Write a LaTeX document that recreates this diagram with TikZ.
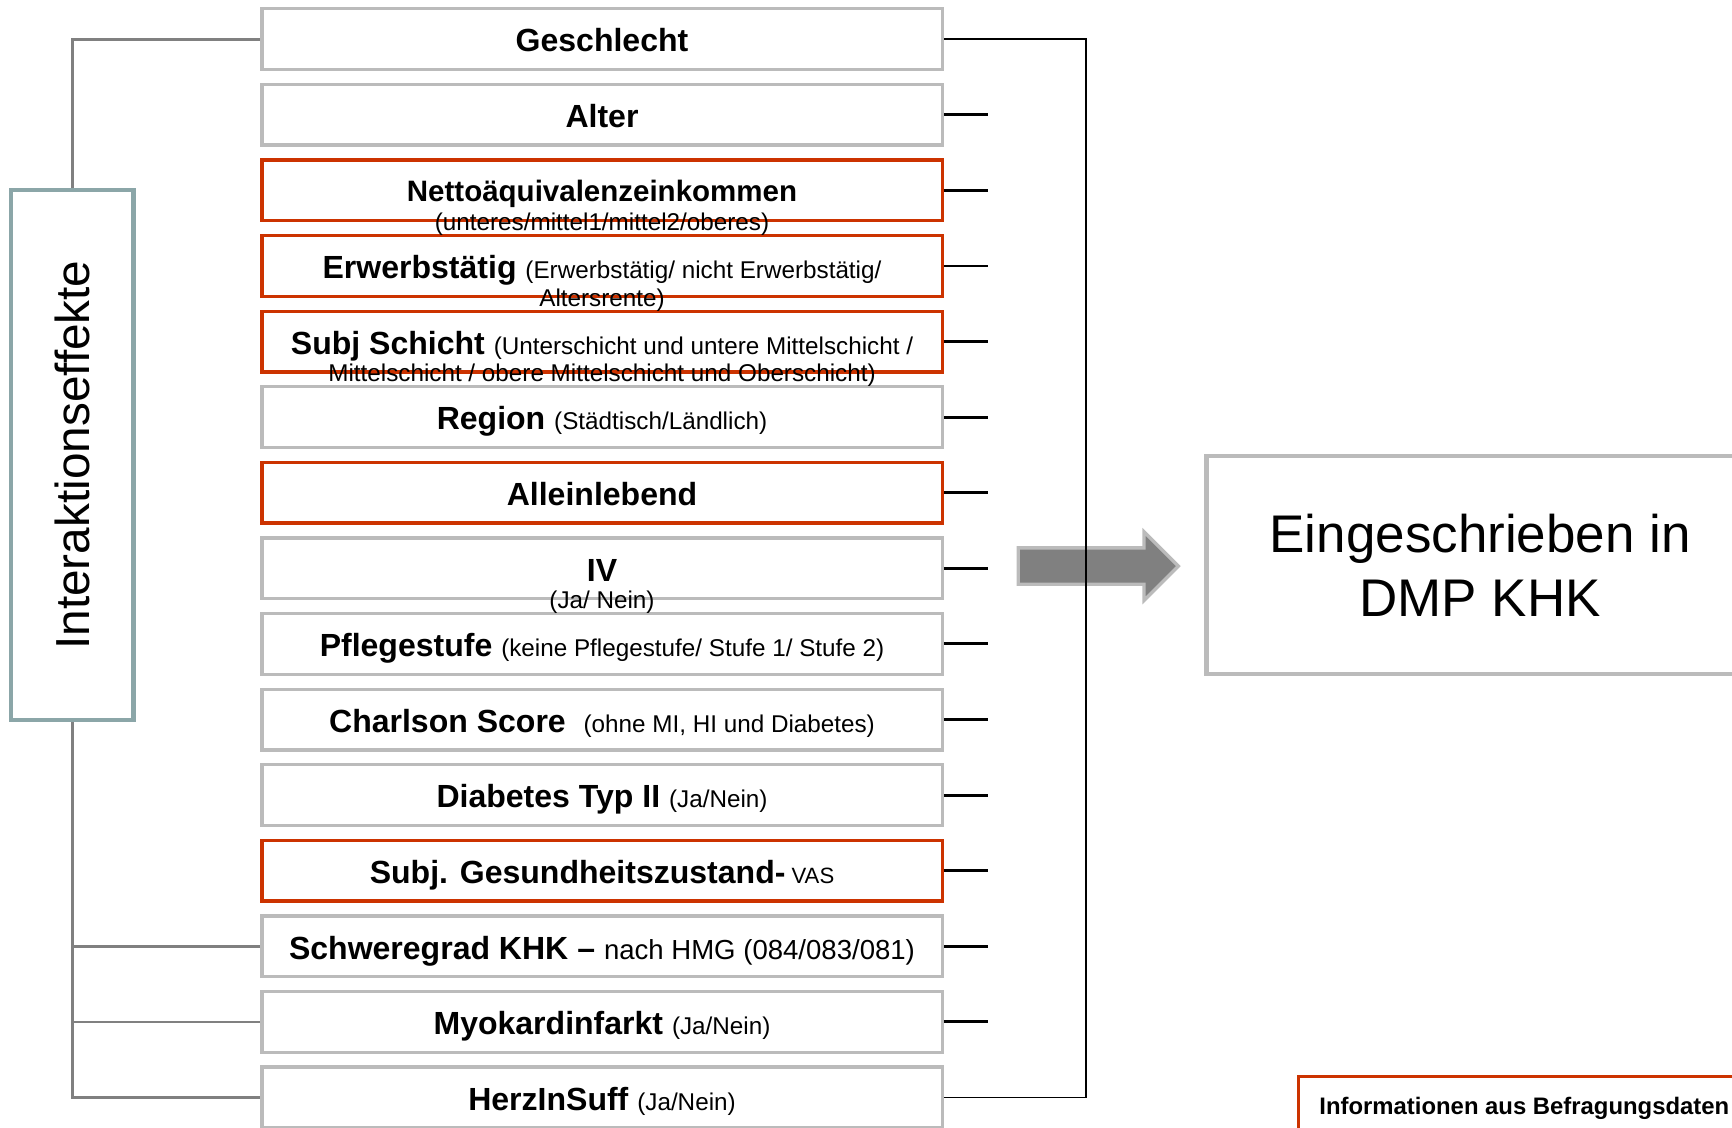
\documentclass[tikz,border=0pt]{standalone}
\usepackage{fontspec}
\setmainfont{Liberation Sans}
\usepackage{tikz}
\usetikzlibrary{positioning,shapes.arrows}
\definecolor{cBox}{RGB}{187,187,187}
\definecolor{cRed}{RGB}{204,51,0}
\definecolor{cTeal}{RGB}{139,166,168}
\definecolor{cLine}{RGB}{128,128,128}
\definecolor{cArrow}{RGB}{128,128,128}
\newcommand{\fTitle}{\fontsize{16.5}{19}\selectfont\bfseries}
\newcommand{\fSub}{\fontsize{12.5}{15}\selectfont\mdseries}
\newcommand{\fMid}{\fontsize{14.2}{17}\selectfont\mdseries}
\newcommand{\fVas}{\fontsize{11.4}{14}\selectfont\mdseries}

\tikzset{
  varbox/.style={draw=cBox, line width=1.7pt, fill=white, minimum width=12.32cm,
    minimum height=1.1cm, inner sep=0pt, text height=0.46cm, text depth=0pt, font=\fTitle},
  redbox/.style={varbox, draw=cRed},
  subline/.style={anchor=base, inner sep=0pt, font=\fSub},
  tick/.style={line width=1.5pt},
  rail/.style={line width=0.85pt},
  bracket/.style={draw=cLine, line width=1.4pt},
  iabox/.style={draw=cTeal, line width=2.3pt, fill=white, minimum width=2.22cm,
    minimum height=9.6cm, inner sep=0pt, font=\fontsize{24.6}{28}\selectfont},
  bigarrow/.style={single arrow, draw=cBox, line width=1.7pt, fill=cArrow,
    minimum height=2.9cm, minimum width=1.18cm, inner xsep=0pt, inner ysep=0.3cm,
    single arrow head extend=0.29cm, single arrow tip angle=90},
  outbox/.style={draw=cBox, line width=2.3pt, minimum width=9.92cm, minimum height=3.94cm,
    align=center, font=\fontsize{27.3}{33}\selectfont},
  infobox/.style={draw=cRed, line width=1.7pt, minimum height=1.16cm, inner xsep=0.38cm,
    font=\fontsize{12.3}{14}\selectfont\bfseries}
}

\begin{document}
\begin{tikzpicture}[x=0.02cm, y=-0.02cm]
  \useasboundingbox (0,0) rectangle (1568,1021);
  \clip (0,0) rectangle (1568,1021);

  % Interaktionseffekte
  \node[iabox] (ia) at (65.5,412) {\rotatebox{90}{Interaktionseffekte}};

  % Variablen
  \node[varbox] (b1) at (545,35.5) {Geschlecht};
  \node[varbox] (b2) at (545,103.9) {Alter};
  \node[redbox, text height=0.4cm] (b3) at (545,172.4) {\fontsize{15.2}{18}\selectfont Nettoäquivalenzeinkommen};
  \node[redbox] (b4) at (545,240.8) {Erwerbstätig {\fSub (Erwerbstätig/ nicht Erwerbstätig/}};
  \node[redbox] (b5) at (545,309.2) {Subj Schicht {\fSub (Unterschicht und untere Mittelschicht /}};
  \node[varbox] (b6) at (545,377.7) {Region {\fSub (Städtisch/Ländlich)}};
  \node[redbox] (b7) at (545,446.1) {Alleinlebend};
  \node[varbox] (b8) at (545,514.5) {IV};
  \node[varbox] (b9) at (545,582.9) {Pflegestufe {\fSub (keine Pflegestufe/ Stufe 1/ Stufe 2)}};
  \node[varbox] (b10) at (545,651.4) {Charlson Score\ \ {\fSub (ohne MI, HI und Diabetes)}};
  \node[varbox] (b11) at (545,719.8) {Diabetes Typ II {\fSub (Ja/Nein)}};
  \node[redbox] (b12) at (545,788.2) {Subj. Gesundheitszustand-{\fVas\ VAS}};
  \node[varbox] (b13) at (545,856.7) {Schweregrad KHK -- {\fMid nach HMG (084/083/081)}};
  \node[varbox] (b14) at (545,925.1) {Myokardinfarkt {\fSub (Ja/Nein)}};
  \node[varbox] (b15) at (545,993.5) {HerzInSuff {\fSub (Ja/Nein)}};

  % zweite Zeilen
  \node[subline] (b3s) at ([yshift=-0.72cm]b3.center) {(unteres/mittel1/mittel2/oberes)};
  \node[subline] (b4s) at ([yshift=-0.74cm]b4.center) {Altersrente)};
  \node[subline] (b5s) at ([yshift=-0.73cm]b5.center) {Mittelschicht / obere Mittelschicht und Oberschicht)};
  \node[subline] (b8s) at ([yshift=-0.73cm]b8.center) {(Ja/ Nein)};

  % Klammer links
  \draw[bracket] (ia.north) |- (b1.west);
  \draw[bracket] (ia.south) |- (b15.west);
  \draw[bracket] (b13.west) -- (b13.west -| ia.south);
  \draw[bracket] (b14.west) -- (b14.west -| ia.south);

  % Striche rechts
  \draw[tick] (b2.east) -- ++(40,0);
  \draw[tick] (b3.east) -- ++(40,0);
  \draw[tick] (b4.east) -- ++(40,0);
  \draw[tick] (b5.east) -- ++(40,0);
  \draw[tick] (b6.east) -- ++(40,0);
  \draw[tick] (b7.east) -- ++(40,0);
  \draw[tick] (b8.east) -- ++(40,0);
  \draw[tick] (b9.east) -- ++(40,0);
  \draw[tick] (b10.east) -- ++(40,0);
  \draw[tick] (b11.east) -- ++(40,0);
  \draw[tick] (b12.east) -- ++(40,0);
  \draw[tick] (b13.east) -- ++(40,0);
  \draw[tick] (b14.east) -- ++(40,0);

  % Pfeil und Ergebnis
  \node[bigarrow] (arr) at (986,512.5) {};
  \draw[rail] (b1.east) -- ++(129,0) |- (b15.east);
  \node[outbox] (out) at (1340,511.5) {Eingeschrieben in\\DMP KHK};
  \node[infobox, anchor=north west] (info) at (1174,973) {Informationen aus Befragungsdaten};
\end{tikzpicture}
\end{document}
